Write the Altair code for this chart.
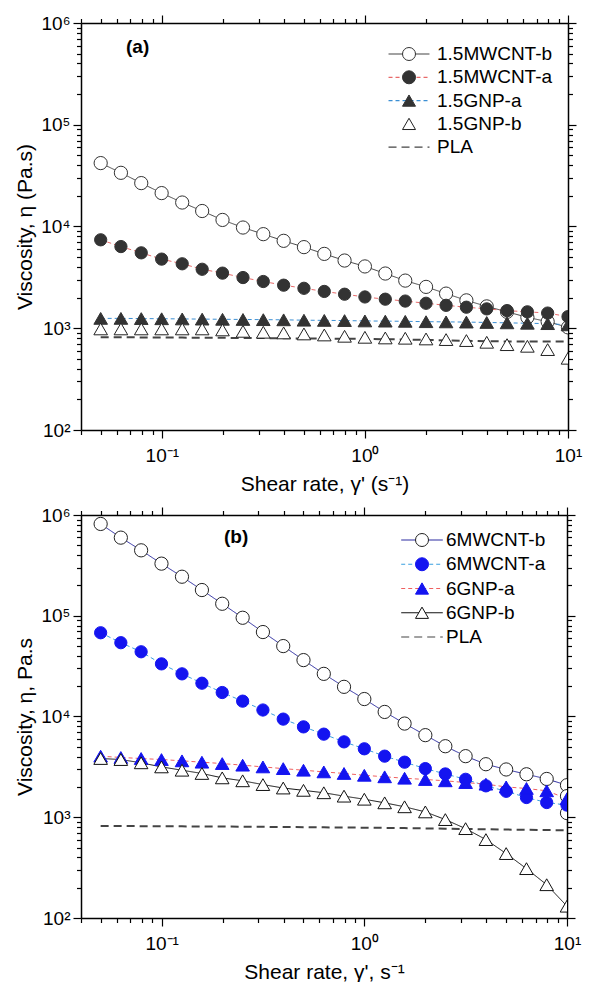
import altair as alt
import pandas as pd

FONT = "Liberation Sans"

# ---------------- data ----------------
shear_rate = [0.05, 0.0629, 0.0792, 0.0998, 0.126, 0.158, 0.199, 0.251, 0.316, 0.398,
              0.501, 0.631, 0.794, 1.0, 1.26, 1.58, 2.0, 2.51, 3.16, 3.98, 5.01, 6.31, 7.94, 10.0]

# panel (a)
a_names = ["1.5MWCNT-b", "1.5MWCNT-a", "1.5GNP-a", "1.5GNP-b", "PLA"]
a_mwcnt_b = [42000, 33700, 26700, 21300, 17200, 14200, 11600, 9770, 8410, 7230, 6270, 5380,
             4630, 4050, 3450, 2940, 2550, 2190, 1880, 1640, 1450, 1280, 1160, 1020]
a_mwcnt_a = [7400, 6350, 5510, 4780, 4300, 3800, 3480, 3150, 2880, 2650, 2470, 2300,
             2160, 2030, 1930, 1850, 1760, 1680, 1610, 1550, 1490, 1450, 1410, 1300]
a_gnp_a = [1250, 1250, 1245, 1240, 1235, 1230, 1225, 1220, 1215, 1210, 1200, 1195,
           1190, 1180, 1175, 1170, 1160, 1155, 1150, 1140, 1130, 1120, 1110, 1080]
a_gnp_b = [985, 985, 985, 985, 985, 985, 963, 933, 914, 900, 879, 859,
           834, 815, 803, 798, 785, 774, 757, 728, 690, 665, 617, 507]
a_pla = [815, 815, 813, 811, 809, 807, 805, 803, 800, 797, 794, 791,
         788, 785, 780, 775, 768, 760, 752, 746, 742, 740, 740, 740]

# panel (b)
b_names = ["6MWCNT-b", "6MWCNT-a", "6GNP-a", "6GNP-b", "PLA"]
b_mwcnt_b = [815000, 596000, 446000, 329000, 244000, 180000, 131500, 95500, 68900, 50000,
             36300, 26500, 19700, 14900, 11100, 8510, 6530, 5070, 4040, 3360, 2980, 2670, 2400, 2080]
b_mwcnt_b_extra_x = [10.0, 10.0]
b_mwcnt_b_extra_y = [1620, 1100]
b_mwcnt_a = [67800, 54000, 43900, 33300, 26500, 21400, 17300, 14200, 11600, 9420, 7890, 6680,
             5600, 4780, 4040, 3520, 3040, 2690, 2380, 2050, 1810, 1570, 1400, 1320]
b_gnp_a = [4040, 3920, 3830, 3740, 3630, 3520, 3410, 3290, 3160, 3040, 2930, 2820,
           2720, 2610, 2520, 2440, 2370, 2300, 2210, 2130, 2000, 1930, 1830, 1530]
b_gnp_b = [3830, 3740, 3470, 3160, 2930, 2720, 2460, 2300, 2110, 1950, 1850, 1750,
           1620, 1510, 1390, 1270, 1130, 948, 771, 600, 436, 309, 214, 131]
b_pla = [820, 818, 816, 814, 812, 810, 808, 806, 803, 800, 797, 794,
         791, 788, 784, 780, 775, 770, 765, 760, 755, 750, 746, 743]

x_ticks = [0.04, 0.05, 0.06, 0.07, 0.08, 0.09, 0.1, 0.2, 0.3, 0.4, 0.5, 0.6, 0.7, 0.8, 0.9,
           1, 2, 3, 4, 5, 6, 7, 8, 9, 10]
y_ticks = [100, 200, 300, 400, 500, 600, 700, 800, 900,
           1000, 2000, 3000, 4000, 5000, 6000, 7000, 8000, 9000,
           10000, 20000, 30000, 40000, 50000, 60000, 70000, 80000, 90000,
           100000, 200000, 300000, 400000, 500000, 600000, 700000, 800000, 900000, 1000000]
x_labels = {"0.1": "10⁻¹", "1": "10⁰", "10": "10¹"}
y_labels = {"100": "10²", "1000": "10³", "10000": "10⁴", "100000": "10⁵", "1000000": "10⁶"}

panel_a_tag = {"x": [0.076], "y": [5.8e5], "t": ["(a)"]}
panel_b_tag = {"x": [0.233], "y": [6.1e5], "t": ["(b)"]}

# ---------------- helpers ----------------
def long_df(rows):
    out = []
    for name, xs, ys in rows:
        for i, (xv, yv) in enumerate(zip(xs, ys)):
            out.append({"x": xv, "y": yv, "s": name, "i": i})
    return pd.DataFrame(out)


def label_expr(d):
    parts = []
    for k, v in d.items():
        parts.append(f"datum.value == {k} ? '{v}'")
    return " : ".join(parts) + " : ''"


MAJOR = "abs(log(datum.value)/LN10 - round(log(datum.value)/LN10)) < 0.001"
TICK = {"condition": {"test": MAJOR, "value": 8}, "value": 4.5}


def x_axis(orient, title):
    if orient == "bottom":
        return alt.Axis(orient="bottom", values=x_ticks, labelExpr=label_expr(x_labels),
                        tickSize=TICK, title=title, labelOverlap=False, labelFlush=False,
                        labelPadding=8, titlePadding=8, grid=False)
    return alt.Axis(orient="top", values=x_ticks, labels=False, tickSize=TICK, title=None, grid=False)


def y_axis(orient, title):
    if orient == "left":
        return alt.Axis(orient="left", values=y_ticks, labelExpr=label_expr(y_labels),
                        tickSize=TICK, title=title, labelOverlap=False, labelFlush=False,
                        labelPadding=3, titlePadding=5, grid=False)
    return alt.Axis(orient="right", values=y_ticks, labels=False, tickSize=TICK, title=None, grid=False)


def build_panel(df, tag, names, styles, legend_pos, xtitle, ytitle, width, height):
    xs = alt.Scale(type="log", domain=[0.04, 10], nice=False)
    ys = alt.Scale(type="log", domain=[100, 1000000], nice=False)
    base = alt.Chart(df)
    layers = []
    axis_done = 0
    for name, st in zip(names, styles):
        sub = base.transform_filter(alt.datum.s == name)
        if st.get("line"):
            if axis_done == 0:
                xa, ya = x_axis("bottom", xtitle), y_axis("left", ytitle)
            elif axis_done == 1:
                xa, ya = x_axis("top", None), y_axis("right", None)
            else:
                xa, ya = None, None
            axis_done += 1
            layers.append(sub.mark_line(color=st["line"], strokeDash=st["dash"],
                                        strokeWidth=st.get("lw", 1), clip=True).encode(
                x=alt.X("x:Q", scale=xs, axis=xa),
                y=alt.Y("y:Q", scale=ys, axis=ya),
                order="i:Q"))
    for name, st in zip(names, styles):
        sub = base.transform_filter(alt.datum.s == name)
        if st.get("shape"):
            layers.append(sub.mark_point(shape=st["shape"], filled=True, fill=st["fill"],
                                         stroke=st["stroke"], strokeWidth=1, opacity=1,
                                         size=st["size"], clip=True).encode(
                x=alt.X("x:Q", scale=xs, axis=None),
                y=alt.Y("y:Q", scale=ys, axis=None)))
    # tag text
    tdf = pd.DataFrame(tag)
    layers.append(alt.Chart(tdf).mark_text(font=FONT, fontSize=19, fontWeight="bold",
                                           color="black").encode(
        x=alt.X("x:Q", scale=xs, axis=None), y=alt.Y("y:Q", scale=ys, axis=None), text="t:N"))

    lx, ly, loff, rpad, half = legend_pos
    line_path = f"M-{half},0H{half}"
    common = dict(title=None, orient="none", legendX=lx, legendY=ly, symbolSize=169,
                  labelFontSize=19, labelFont=FONT, labelColor="black", labelOffset=loff,
                  rowPadding=rpad, padding=0, symbolOpacity=1)
    legA = alt.Legend(symbolType=line_path, symbolStrokeWidth=1.2, **common)
    legB = alt.Legend(symbolStrokeWidth=1, labelOpacity=0, **common)
    line_cols = [st.get("line") or "transparent" for st in styles]
    dashes = [st.get("dash", [1, 0]) if st.get("line") else [1, 0] for st in styles]
    dashes = [d if d else [1, 0] for d in dashes]
    names_b = [n + " " for n in names]
    shapes = [st.get("shape") or "circle" for st in styles]
    fills = [st.get("fill") or "transparent" for st in styles]
    strokes = [st.get("stroke") or "transparent" for st in styles]
    fieldA = "legA"
    fieldB = "legB"
    ldfA = pd.DataFrame({fieldA: names})
    ldfB = pd.DataFrame({fieldB: names_b})
    layers.append(alt.Chart(ldfA).transform_filter("false").mark_point(filled=False, opacity=1).encode(
        color=alt.Color(f"{fieldA}:N", scale=alt.Scale(domain=names, range=line_cols), legend=legA),
        strokeDash=alt.StrokeDash(f"{fieldA}:N", scale=alt.Scale(domain=names, range=dashes), legend=legA)))
    layers.append(alt.Chart(ldfB).transform_filter("false").mark_point(filled=True, opacity=1).encode(
        shape=alt.Shape(f"{fieldB}:N", scale=alt.Scale(domain=names_b, range=shapes), legend=legB),
        fill=alt.Fill(f"{fieldB}:N", scale=alt.Scale(domain=names_b, range=fills), legend=legB),
        stroke=alt.Stroke(f"{fieldB}:N", scale=alt.Scale(domain=names_b, range=strokes), legend=legB)))

    return alt.layer(*layers).resolve_axis(x="independent", y="independent").properties(
        width=width, height=height)


DK = "#333333"
styles_a = [
    {"line": "#444444", "dash": [1, 0], "shape": "circle", "fill": "white", "stroke": DK, "size": 175},
    {"line": "#e86a6a", "dash": [4, 3], "shape": "circle", "fill": DK, "stroke": DK, "size": 150},
    {"line": "#3b8fd4", "dash": [4, 3], "shape": "triangle-up", "fill": DK, "stroke": DK, "size": 185},
    {"shape": "triangle-up", "fill": "white", "stroke": "#222222", "size": 185},
    {"line": "#444444", "dash": [8, 5], "lw": 2},
]
BL = "#1414f0"
styles_b = [
    {"line": "#2a2aa0", "dash": [1, 0], "shape": "circle", "fill": "white", "stroke": "#222222", "size": 175},
    {"line": "#3aa0e0", "dash": [4, 3], "shape": "circle", "fill": BL, "stroke": BL, "size": 150},
    {"line": "#f06060", "dash": [4, 3], "shape": "triangle-up", "fill": BL, "stroke": BL, "size": 185},
    {"line": "#111111", "dash": [1, 0], "shape": "triangle-up", "fill": "white", "stroke": "#111111", "size": 185},
    {"line": "#444444", "dash": [8, 5], "lw": 2},
]

df_a = long_df([
    (a_names[0], shear_rate, a_mwcnt_b),
    (a_names[1], shear_rate, a_mwcnt_a),
    (a_names[2], shear_rate, a_gnp_a),
    (a_names[3], shear_rate, a_gnp_b),
    (a_names[4], shear_rate, a_pla),
])
df_b = long_df([
    (b_names[0], shear_rate + b_mwcnt_b_extra_x, b_mwcnt_b + b_mwcnt_b_extra_y),
    (b_names[1], shear_rate, b_mwcnt_a),
    (b_names[2], shear_rate, b_gnp_a),
    (b_names[3], shear_rate, b_gnp_b),
    (b_names[4], shear_rate, b_pla),
])

top = build_panel(df_a, panel_a_tag, a_names, styles_a, (318.5, 21.5, 18.5, 3.3, 3.15),
                  "Shear rate, γ' (s⁻¹)", "Viscosity, η (Pa.s)", 487, 407)
bottom = build_panel(df_b, panel_b_tag, b_names, styles_b, (331.5, 15.5, 14.5, 4.25, 3.2),
                     "Shear rate, γ', s⁻¹", "Viscosity, η, Pa.s", 486, 403)

chart = alt.vconcat(top, bottom, spacing=12).resolve_scale(
    color="independent", shape="independent", fill="independent", stroke="independent",
    strokeDash="independent"
).properties(
    padding={"left": 6, "top": 6, "right": 5, "bottom": 0}
).configure_view(stroke=None).configure_axis(
    labelFont=FONT, labelFontSize=19, labelColor="black", titleFont=FONT, titleFontSize=21,
    titleFontWeight="normal", titleColor="black", domainColor="black", domainWidth=1.5,
    tickColor="black", tickWidth=1.2
).configure_legend(labelFont=FONT)

chart.save("out.html", embed_options={"renderer": "svg", "actions": False})
